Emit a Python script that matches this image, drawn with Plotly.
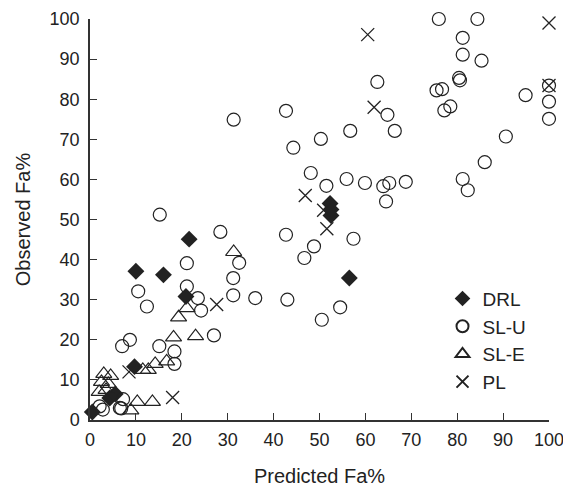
import plotly.graph_objects as go

# DRL (filled diamonds)
drl_x = [0.5, 4.3, 5.5, 9.7, 10.0, 16.0, 20.9, 21.6, 52.3, 52.5, 52.5, 56.5]
drl_y = [2.0, 5.5, 6.5, 13.3, 37.1, 36.2, 30.8, 45.1, 54.0, 52.5, 51.0, 35.4]

# SL-U (open circles)
slu_x = [76.0, 84.4, 81.2, 81.2, 85.3, 80.4, 80.6, 75.5, 76.7, 77.2, 78.5,
         62.6, 64.8, 66.4, 56.7, 50.3, 44.3, 42.7, 94.9, 100.0, 100.0, 100.0,
         90.6, 86.0, 81.2, 82.3, 48.1, 51.5, 55.9, 59.9, 63.9, 65.2, 68.8,
         64.5, 42.7, 48.8, 46.7, 57.4, 31.3, 15.2, 28.4, 43.0, 54.5, 50.5,
         21.1, 21.1, 10.5, 12.4, 23.5, 24.2, 32.5, 31.2, 31.2, 36.0,
         7.0, 8.7, 15.1, 18.4, 18.4, 27.0, 6.8, 7.2, 2.1, 2.8, 6.5]
slu_y = [100.0, 100.0, 95.3, 91.1, 89.6, 85.3, 84.7, 82.2, 82.5, 77.2, 78.2,
         84.3, 76.1, 72.1, 72.1, 70.1, 67.9, 77.1, 81.0, 83.4, 79.4, 75.1,
         70.7, 64.3, 60.1, 57.3, 61.6, 58.4, 60.1, 59.1, 58.3, 59.1, 59.4,
         54.5, 46.2, 43.3, 40.4, 45.2, 74.9, 51.2, 46.9, 30.0, 28.1, 25.0,
         39.1, 33.3, 32.1, 28.3, 30.4, 27.3, 39.2, 35.4, 31.1, 30.4,
         18.4, 20.0, 18.4, 17.1, 14.0, 21.1, 2.9, 5.2, 3.4, 2.6, 3.0]

# SL-E (open triangles)
sle_x = [31.3, 21.1, 19.3, 18.2, 23.0, 16.7, 14.2, 12.7, 11.5, 10.3, 13.6,
         8.9, 3.0, 4.5, 2.5, 4.0, 2.0, 3.5]
sle_y = [41.9, 27.9, 25.6, 20.6, 20.9, 14.6, 14.0, 12.5, 12.5, 4.5, 4.5,
         2.4, 11.5, 11.0, 9.5, 9.0, 7.0, 7.5]

# PL (crosses)
pl_x = [60.5, 100.0, 61.9, 100.0, 46.9, 50.9, 51.6, 27.6, 8.5, 18.0]
pl_y = [96.1, 99.0, 78.0, 83.4, 56.0, 52.3, 47.7, 28.8, 12.0, 5.6]

ink = "#222222"
fnt = "Liberation Sans, Arial, sans-serif"

fig = go.Figure()
fig.add_trace(go.Scatter(x=drl_x, y=drl_y, mode="markers", name="DRL",
                         marker=dict(symbol="diamond", size=13, color=ink,
                                     line=dict(width=0)), cliponaxis=False))
fig.add_trace(go.Scatter(x=slu_x, y=slu_y, mode="markers", name="SL-U",
                         marker=dict(symbol="circle-open", size=13, color=ink,
                                     line=dict(width=1.2)), cliponaxis=False))
fig.add_trace(go.Scatter(x=sle_x, y=sle_y, mode="markers", name="SL-E",
                         marker=dict(symbol="triangle-up-open", size=14, color=ink,
                                     line=dict(width=1.2)), cliponaxis=False))
fig.add_trace(go.Scatter(x=pl_x, y=pl_y, mode="markers", name="PL",
                         marker=dict(symbol="x-thin-open", size=13, color=ink,
                                     line=dict(width=1.3)), cliponaxis=False))

axis_common = dict(range=[0, 100], dtick=10, tick0=0, showgrid=False,
                   zeroline=False, showline=True, linecolor="#333333",
                   linewidth=1.5, ticks="inside", ticklen=7, tickwidth=1.2,
                   tickcolor="#333333", automargin=False,
                   tickfont=dict(size=18, color=ink, family=fnt))

# the page body adds an 8px offset, so the figure is sized/margined to compensate
fig.update_layout(
    width=563, height=479,
    margin=dict(l=82, r=22, t=11, b=67),
    paper_bgcolor="white", plot_bgcolor="white",
    font=dict(family=fnt, color=ink),
    showlegend=True,
    legend=dict(x=0.768, y=0.35, xanchor="left", yanchor="top",
                font=dict(size=19, color=ink, family=fnt),
                bgcolor="rgba(0,0,0,0)", itemwidth=30, tracegroupgap=0,
                itemsizing="constant"),
    xaxis=dict(title=dict(text="Predicted Fa%", font=dict(size=20, color=ink, family=fnt),
                          standoff=21), ticklabelstandoff=3, **axis_common),
    yaxis=dict(title=dict(text="Observed Fa%", font=dict(size=20, color=ink, family=fnt),
                          standoff=14), ticklabelstandoff=5, **axis_common),
)

fig.write_html("out.html")
